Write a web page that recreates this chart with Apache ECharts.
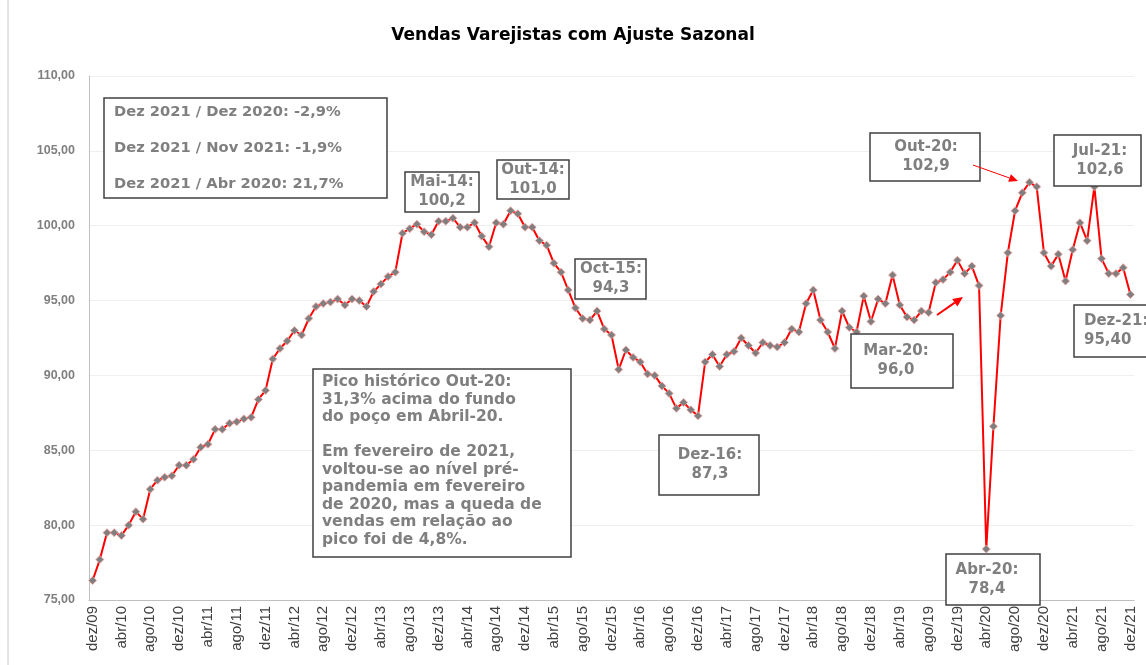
<!DOCTYPE html>
<html>
<head>
<meta charset="utf-8">
<script src="https://cdn.jsdelivr.net/npm/echarts@6/dist/echarts.min.js"></script>
<style>
html,body{margin:0;padding:0;background:#fff;}
#chart{width:1146px;height:665px;}
</style>
</head>
<body>
<div id="chart"></div>
<script>
// ---- DATA ----
const monthNames = ['jan','fev','mar','abr','mai','jun','jul','ago','set','out','nov','dez'];
const v2009 = [76.3]; // dez/09
const v2010 = [77.7, 79.5, 79.5, 79.3, 80.0, 80.9, 80.4, 82.4, 83.0, 83.2, 83.3, 84.0];
const v2011 = [84.0, 84.4, 85.2, 85.4, 86.4, 86.4, 86.8, 86.9, 87.1, 87.2, 88.4, 89.0];
const v2012 = [91.1, 91.8, 92.3, 93.0, 92.7, 93.8, 94.6, 94.8, 94.9, 95.1, 94.7, 95.1];
const v2013 = [95.0, 94.6, 95.6, 96.1, 96.6, 96.9, 99.5, 99.8, 100.1, 99.6, 99.4, 100.3];
const v2014 = [100.3, 100.5, 99.9, 99.9, 100.2, 99.3, 98.6, 100.2, 100.1, 101.0, 100.8, 99.9];
const v2015 = [99.9, 99.0, 98.7, 97.5, 96.9, 95.7, 94.5, 93.8, 93.7, 94.3, 93.1, 92.7];
const v2016 = [90.4, 91.7, 91.2, 90.9, 90.1, 90.0, 89.3, 88.8, 87.8, 88.2, 87.7, 87.3];
const v2017 = [90.9, 91.4, 90.6, 91.4, 91.6, 92.5, 92.0, 91.5, 92.2, 92.0, 91.9, 92.2];
const v2018 = [93.1, 92.9, 94.8, 95.7, 93.7, 92.9, 91.8, 94.3, 93.2, 92.9, 95.3, 93.6];
const v2019 = [95.1, 94.8, 96.7, 94.7, 93.9, 93.7, 94.3, 94.2, 96.2, 96.4, 96.9, 97.7];
const v2020 = [96.8, 97.3, 96.0, 78.4, 86.6, 94.0, 98.2, 101.0, 102.2, 102.9, 102.6, 98.2];
const v2021 = [97.3, 98.1, 96.3, 98.4, 100.2, 99.0, 102.6, 97.8, 96.8, 96.8, 97.2, 95.4];
const yTicks = [75, 80, 85, 90, 95, 100, 105, 110];

const yearlyValues = [v2010, v2011, v2012, v2013, v2014, v2015, v2016, v2017, v2018, v2019, v2020, v2021];
const categories = ['dez/09'];
const values = v2009.slice();
yearlyValues.forEach((arr, k) => {
  const yy = String(10 + k).padStart(2, '0');
  arr.forEach((v, m) => { categories.push(monthNames[m] + '/' + yy); values.push(v); });
});

// ---- ANNOTATION HELPERS ----
const FONT = '"Liberation Sans", Arial, sans-serif';
const WFONT = '"DejaVu Sans", Verdana, sans-serif';
const boxText = '#7f7f7f';
const Z = 100;
function rectEl(w, h) {
  return {type: 'rect', z: Z, shape: {x: 0, y: 0, width: w, height: h},
          style: {fill: '#fff', stroke: '#404040', lineWidth: 1.5}};
}
function box(x, y, w, h, lines, tx, lh, align) {
  const children = [rectEl(w, h)];
  lines.forEach((t, i) => {
    children.push({
      type: 'text', z: Z + 1, x: tx, y: h / 2 + (i - (lines.length - 1) / 2) * lh,
      style: {text: t, textAlign: align || 'center', textVerticalAlign: 'middle',
              font: 'bold 15px ' + WFONT, fill: boxText}
    });
  });
  return {type: 'group', x: x, y: y, children: children};
}
function arrow(x1, y1, x2, y2, w, head) {
  const a = Math.atan2(y2 - y1, x2 - x1);
  const hx = x2 - head * Math.cos(a), hy = y2 - head * Math.sin(a);
  const px = -Math.sin(a) * head * 0.45, py = Math.cos(a) * head * 0.45;
  return [
    {type: 'line', z: Z, shape: {x1: x1, y1: y1, x2: hx, y2: hy}, style: {stroke: '#ff0000', lineWidth: w}},
    {type: 'polygon', z: Z, shape: {points: [[x2, y2], [hx + px, hy + py], [hx - px, hy - py]]}, style: {fill: '#ff0000'}}
  ];
}

const statLines = ['Dez 2021 / Dez 2020: -2,9%', 'Dez 2021 / Nov 2021: -1,9%', 'Dez 2021 / Abr 2020: 21,7%'];
const bigLines = ['Pico histórico Out-20:', '31,3% acima do fundo', 'do poço em Abril-20.', '',
  'Em fevereiro de 2021,', 'voltou-se ao nível pré-', 'pandemia em fevereiro',
  'de 2020, mas a queda de', 'vendas em relação ao', 'pico foi de 4,8%.'];

const graphics = [
  {type: 'line', shape: {x1: 8, y1: 0, x2: 8, y2: 665}, style: {stroke: '#c8c8c8', lineWidth: 1}},
  {type: 'group', x: 104, y: 98, children: [rectEl(283, 100)].concat(statLines.map((t, i) => ({
    type: 'text', z: Z + 1, x: 10, y: 14 + i * 36,
    style: {text: t, textVerticalAlign: 'middle', font: 'bold 14.7px ' + WFONT, fill: boxText}
  })))},
  box(405, 172, 74, 40, ['Mai-14:', '100,2'], 37, 19),
  box(497, 160, 72, 39, ['Out-14:', '101,0'], 36, 19),
  box(575, 259, 71, 40, ['Oct-15:', '94,3'], 36, 19),
  box(659, 435, 100, 60, ['Dez-16:', '87,3'], 51, 19),
  box(851, 334, 102, 54, ['Mar-20:', '96,0'], 45, 19),
  box(870, 133, 110, 48, ['Out-20:', '102,9'], 56, 19),
  box(1054, 135, 87, 51, ['Jul-21:', '102,6'], 46, 19),
  box(1074, 305, 90, 52, ['Dez-21:', '95,40'], 10, 19, 'left'),
  box(946, 554, 94, 51, ['Abr-20:', '78,4'], 41, 19),
  {type: 'group', x: 313, y: 369, children: [rectEl(258, 188)].concat(bigLines.map((t, i) => ({
    type: 'text', z: Z + 1, x: 9, y: 13 + i * 17.5,
    style: {text: t, textVerticalAlign: 'middle', font: 'bold 15.5px ' + WFONT, fill: boxText}
  })))}
].concat(arrow(973, 165, 1018, 181, 1, 9)).concat(arrow(937, 315, 963, 297, 2, 10));

const chart = echarts.init(document.getElementById('chart'));
chart.setOption({
  animation: false,
  backgroundColor: '#fff',
  title: {
    text: 'Vendas Varejistas com Ajuste Sazonal', left: 'center', top: 22,
    textStyle: {fontFamily: WFONT, fontSize: 17, fontWeight: 'bold', color: '#000'}
  },
  grid: {left: 89, right: 12, top: 76, bottom: 65, containLabel: false},
  xAxis: {
    type: 'category', data: categories, boundaryGap: true,
    axisLine: {lineStyle: {color: '#bfbfbf', width: 1}},
    axisTick: {interval: 3, length: 5, lineStyle: {color: '#bfbfbf'}},
    axisLabel: {interval: 3, rotate: 90, fontFamily: FONT, fontSize: 15, color: '#404040', margin: 6}
  },
  yAxis: {
    type: 'value', min: yTicks[0], max: yTicks[yTicks.length - 1], interval: 5,
    axisLine: {show: true, lineStyle: {color: '#bfbfbf'}},
    axisTick: {show: false},
    splitLine: {lineStyle: {color: '#efefef', width: 1}},
    axisLabel: {
      fontFamily: FONT, fontSize: 12.5, fontWeight: 'bold', color: '#7f7f7f', margin: 14,
      formatter: v => v.toFixed(2).replace('.', ',')
    }
  },
  series: [{
    type: 'line', data: values,
    lineStyle: {color: '#ff0000', width: 2},
    symbol: 'diamond', symbolSize: 8, showAllSymbol: true,
    itemStyle: {color: '#7f7f7f', borderColor: '#f4a0a0', borderWidth: 0.8},
    z: 5
  }],
  graphic: graphics
});
</script>
</body>
</html>
